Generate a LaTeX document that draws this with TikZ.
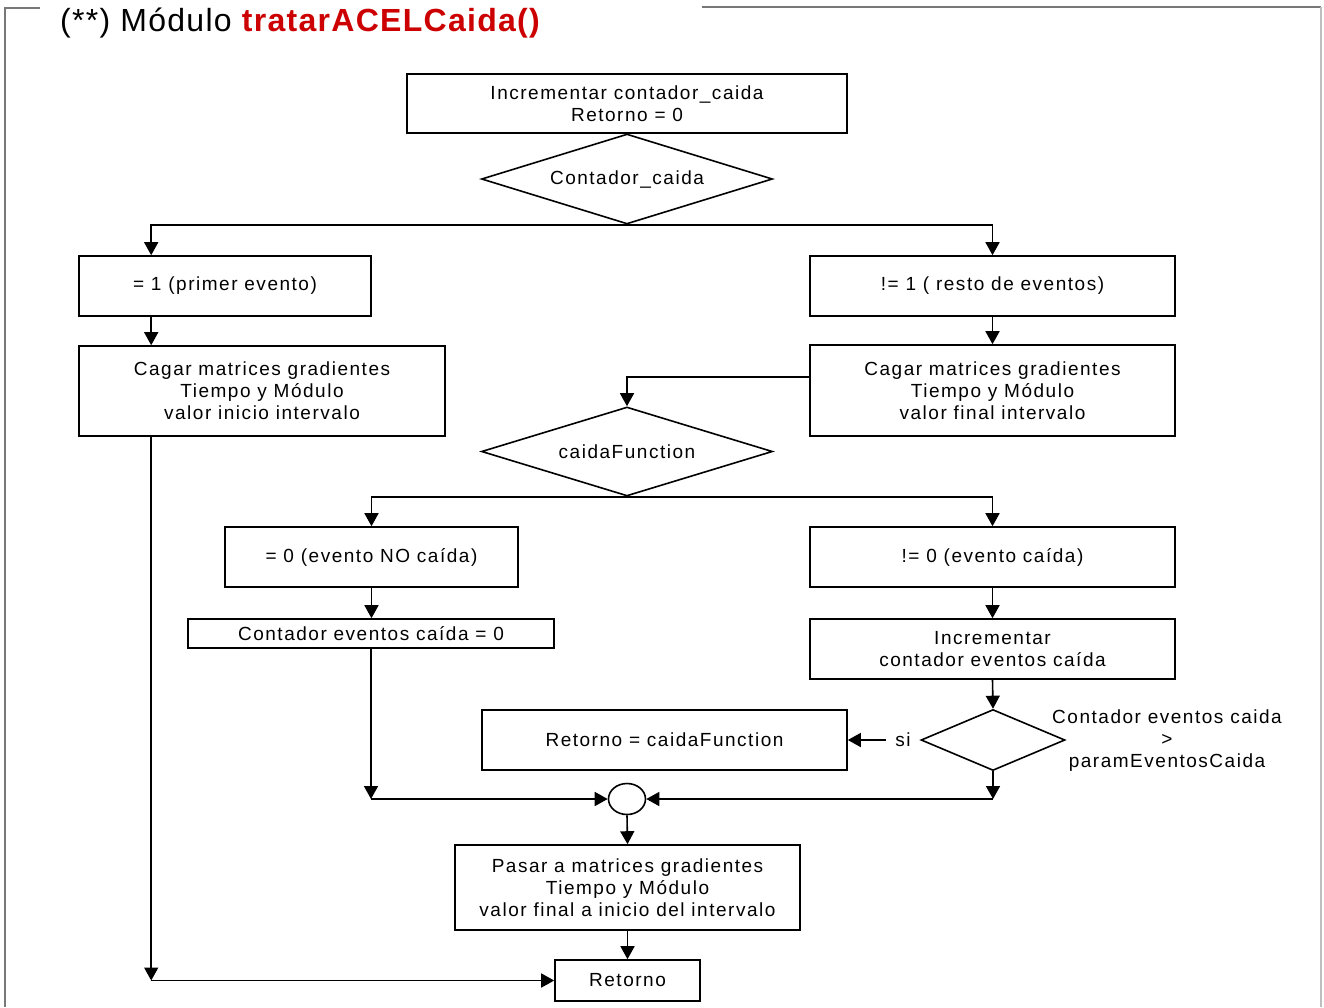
\documentclass[tikz,border=0pt]{standalone}
\usepackage{fontspec}
\setmainfont{Liberation Sans}
\newfontfamily\diagfont[LetterSpace=8]{Liberation Sans}
\newfontfamily\titlefont[LetterSpace=4]{Liberation Sans}
\usetikzlibrary{shapes.geometric,arrows.meta,calc}
\definecolor{titlered}{RGB}{204,0,0}
\definecolor{framegray}{RGB}{120,120,120}
\definecolor{framelight}{RGB}{190,190,190}

\begin{document}
\begin{tikzpicture}[x=1pt,y=-1pt,
  txt/.style={font=\diagfont\fontsize{19}{22}\selectfont},
  box/.style={txt, draw, line width=1.6pt, inner sep=0pt, align=center},
  dia/.style={txt, diamond, draw, line width=1.6pt, inner sep=0pt, shape aspect=3.2},
  arr/.style={line width=1.6pt, -{Triangle[length=13pt,width=14pt]}},
  ln/.style={line width=1.6pt}]

% canvas
\path[fill=white, use as bounding box] (0,0) rectangle (1324,1007);

% frame
\draw[framegray, line width=1.5pt] (40,8) -- (5,8) -- (5,1007);
\draw[framegray, line width=2pt] (702,7) -- (1321,7);
\draw[framelight, line width=1.5pt] (1321,7) -- (1321,1007);

% title
\node[anchor=base west, inner sep=0pt, font=\titlefont\fontsize{32}{36}\selectfont] (title) at (60,31)
  {(**) Módulo \textcolor{titlered}{\bfseries tratarACELCaida()}};

% boxes
\node[box, minimum width=440, minimum height=59] (inc) at (627,103.5) {Incrementar contador\_caida\\Retorno = 0};
\node[dia, minimum width=291, minimum height=90] (dc) at (627,179) {Contador\_caida};

\node[box, minimum width=292, minimum height=60] (pe) at (225,286) {= 1 (primer evento)};
\node[box, minimum width=365, minimum height=60] (re) at (992.5,286) {!= 1 ( resto de eventos)};

\node[box, minimum width=366, minimum height=90] (ci) at (262,391) {Cagar matrices gradientes\\Tiempo y Módulo\\valor inicio intervalo};
\node[box, minimum width=365, minimum height=91] (cf) at (992.5,390.5) {Cagar matrices gradientes\\Tiempo y Módulo\\valor final intervalo};

\node[dia, minimum width=291, minimum height=89] (dk) at (627,451.5) {caidaFunction};

\node[box, minimum width=293, minimum height=60] (nc) at (371.5,557) {= 0 (evento NO caída)};
\node[box, minimum width=365, minimum height=60] (sc) at (992.5,557) {!= 0 (evento caída)};

\node[box, minimum width=366, minimum height=29] (cz) at (371,633.5) {Contador eventos caída = 0};
\node[box, minimum width=365, minimum height=60] (ic) at (992.5,649) {Incrementar\\contador eventos caída};

\node[dia, minimum width=144, minimum height=61] (dp) at (993,740) {};
\node[txt, align=center, inner sep=0pt] (cond) at (1167,741) {Contador eventos caida\\>\\paramEventosCaida};
\node[txt, inner xsep=9pt, inner ysep=0pt] (si) at (903,740) {si};
\node[box, minimum width=365, minimum height=60] (rc) at (664.5,740) {Retorno = caidaFunction};

\node[draw, ellipse, line width=1.6pt, minimum width=37, minimum height=31, inner sep=0pt] (jn) at (627,799) {};

\node[box, minimum width=345, minimum height=85] (pm) at (627.5,887.5) {Pasar a matrices gradientes\\Tiempo y Módulo\\valor final a inicio del intervalo};
\node[box, minimum width=145, minimum height=41] (rt) at (627.5,980.5) {Retorno};

% helper points
\coordinate (lx) at ([xshift=73pt]ci.south west);
\coordinate (j1) at (cz.south |- jn.west);
\coordinate (j2) at (dp.south |- jn.east);
\coordinate (j3) at (lx |- rt.west);

% connectors
\draw[arr] (dc.south) -| ([xshift=73pt]pe.north west);
\draw[arr] (dc.south) -| (re.north);
\draw[arr] ([xshift=73pt]pe.south west) -- ([xshift=73pt]ci.north west);
\draw[arr] (re.south) -- (cf.north);
\draw[arr] ([yshift=13.5pt]cf.west) -| (dk.north);
\draw[arr] (dk.south) -| (nc.north);
\draw[arr] (dk.south) -| (sc.north);
\draw[arr] (nc.south) -- (nc.south |- cz.north);
\draw[arr] (sc.south) -- (ic.north);
\draw[arr] (ic.south) -- (dp.north);
\draw[arr] (si.west) -- (si.west -| rc.east);
\draw[arr] (dp.south) -- (j2);
\draw[arr] (j2) -- (jn.east);
\draw[arr] (cz.south) -- (j1);
\draw[arr] (j1) -- (jn.west);
\draw[arr] (jn.south) -- (pm.north);
\draw[arr] (pm.south) -- (rt.north);
\draw[arr] (lx) -- (j3);
\draw[arr] (j3) -- (rt.west);

\end{tikzpicture}
\end{document}
